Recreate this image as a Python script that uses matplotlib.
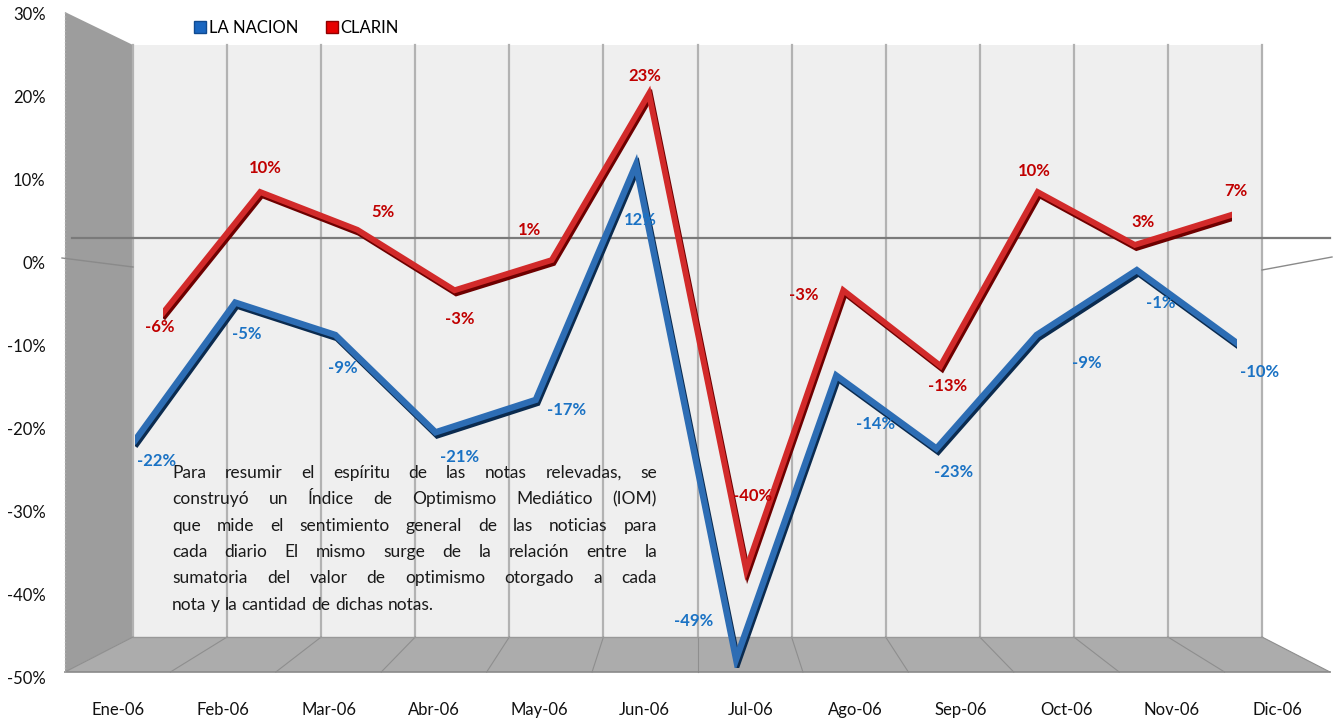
import matplotlib
matplotlib.use('Agg')
import matplotlib.pyplot as plt
import matplotlib.patheffects as pe
from matplotlib.lines import Line2D
from matplotlib.patches import Polygon, Rectangle
from matplotlib.ticker import FuncFormatter

# ---------------- data ----------------
months = ['Ene-06', 'Feb-06', 'Mar-06', 'Abr-06', 'May-06', 'Jun-06',
          'Jul-06', 'Ago-06', 'Sep-06', 'Oct-06', 'Nov-06', 'Dic-06']
la_nacion = [-22, -5, -9, -21, -17, 12, -49, -14, -23, -9, -1, -10]
clarin = [-6, 10, 5, -3, 1, 23, -40, -3, -13, 10, 3, 7]
y_ticks = [30, 20, 10, 0, -10, -20, -30, -40, -50]
series_names = ['LA NACION', 'CLARIN']
note_lines = [
    "Para resumir el espíritu de las notas relevadas, se",
    "construyó un Índice de Optimismo Mediático (IOM)",
    "que mide el sentimiento general de las noticias para",
    "cada diario El mismo surge de la relación entre la",
    "sumatoria del valor de optimismo otorgado a cada",
    "nota y la cantidad de dichas notas.",
]

# label offsets (pixels) - style only
ln_off = [(22, -21), (12, -31), (7, -33), (24, -25), (31, -10), (4, -55),
          (-42, 38), (39, -48), (17, -23), (50, -28), (24, -33), (23, -29)]
cl_off = [(-3, -14), (5, 24), (26, 18), (5, -29), (-22, 30), (-4, 18),
          (6, 74), (-40, -5), (7, -20), (-3, 21), (8, 23), (4, 24)]

W, H = 1334, 721
plt.rcParams['font.family'] = ['Lato', 'DejaVu Sans']
fig = plt.figure(figsize=(W / 100, H / 100), dpi=100)


def fr(x0, y0, x1, y1):
    return [x0 / W, 1 - y1 / H, (x1 - x0) / W, (y1 - y0) / H]


# ---------------- background (3D-like walls) ----------------
bg = fig.add_axes([0, 0, 1, 1])
bg.set_xlim(0, W)
bg.set_ylim(H, 0)
bg.axis('off')
bg.set_zorder(0)

BX0, BX1, BY0, BY1 = 133, 1262, 45, 637
FX0, FX1, FY = 65, 1330, 672
bg.add_patch(Polygon([(FX0, 12), (BX0, BY0), (BX0, BY1), (FX0, FY)],
                     closed=True, fc='#9d9d9d', ec='none'))
bg.add_patch(Rectangle((BX0, BY0), BX1 - BX0, BY1 - BY0, fc='#efefef', ec='none'))
bg.add_patch(Polygon([(BX0, BY1), (BX1, BY1), (FX1, FY), (FX0, FY)],
                     closed=True, fc='#acacac', ec='none'))
nb = 12
for i in range(nb + 1):
    xb = BX0 + (BX1 - BX0) * i / nb
    xf = FX0 + (FX1 - FX0) * i / nb
    bg.plot([xb, xb], [BY0, BY1], color='#b2b2b2', lw=1.6, zorder=1)
    bg.plot([xb, xf], [BY1, FY], color='#8e8e8e', lw=0.8, zorder=1)
bg.plot([BX0, BX1], [BY1, BY1], color='#999999', lw=1, zorder=1)
bg.plot([FX0, FX1], [FY, FY], color='#8a8a8a', lw=1.2, zorder=1)
bg.plot([FX0, FX0], [12, FY], color='#b0b0b0', lw=1, ls=':', zorder=1)
bg.plot([72, 1330], [238, 238], color='#7a7a7a', lw=1.6, zorder=2)
bg.plot([62, BX0], [258, 267], color='#8a8a8a', lw=1, zorder=2)
bg.plot([BX1, 1332], [270, 257], color='#8a8a8a', lw=1, zorder=2)

# ---------------- tick-label axes ----------------
axy = fig.add_axes(fr(FX0, 14, FX1, 677))
axy.set_zorder(1)
axy.patch.set_visible(False)
for s in axy.spines.values():
    s.set_visible(False)
axy.set_xlim(-0.5, 11.5)
axy.set_ylim(-50, 30)
axy.set_yticks(y_ticks)
axy.yaxis.set_major_formatter(FuncFormatter(lambda v, p: f"{int(v)}%"))
axy.set_xticks(range(len(months)))
axy.set_xticklabels(months)
axy.tick_params(axis='y', length=0, pad=14, labelsize=12, labelcolor='#111111')
axy.tick_params(axis='x', length=0, pad=18, labelsize=12, labelcolor='#111111')

# ---------------- series axes ----------------
ax_cl = fig.add_axes(fr(163, 267.6 - 7.56 * 30, 1232, 267.6 + 7.56 * 50))
ax_ln = fig.add_axes(fr(135, 262 - 8.11 * 30, 1237, 262 + 8.11 * 50))
for a, z in ((ax_cl, 2), (ax_ln, 3)):
    a.set_xlim(0, 11)
    a.set_ylim(-50, 30)
    a.axis('off')
    a.set_zorder(z)

x = list(range(len(months)))
ax_cl.plot(x, clarin, color='#d22a2a', lw=4.2, solid_joinstyle='miter',
           path_effects=[pe.SimpleLineShadow(offset=(1.2, -2.2), shadow_color='#6e0000', alpha=1.0),
                         pe.Normal()])
ax_ln.plot(x, la_nacion, color='#2d6db4', lw=4.6, solid_joinstyle='miter',
           path_effects=[pe.SimpleLineShadow(offset=(1.2, -2.2), shadow_color='#0b2b4f', alpha=1.0),
                         pe.Normal()])

for i, v in enumerate(clarin):
    ax_cl.annotate(f"{v}%", (i, v), xytext=cl_off[i], textcoords='offset pixels',
                   ha='center', va='center', fontsize=12, fontweight='bold',
                   color='#c00000', annotation_clip=False)
for i, v in enumerate(la_nacion):
    ax_ln.annotate(f"{v}%", (i, v), xytext=ln_off[i], textcoords='offset pixels',
                   ha='center', va='center', fontsize=12, fontweight='bold',
                   color='#1a72c4', annotation_clip=False)

# ---------------- legend ----------------
handles = [Line2D([], [], marker='s', ls='', mfc='#1a66c0', mec='#104a90', ms=8),
           Line2D([], [], marker='s', ls='', mfc='#e80000', mec='#900000', ms=8)]
fig.legend(handles, series_names, loc='upper left', bbox_to_anchor=(178 / W, 1 - 5 / H),
           ncol=2, frameon=False, fontsize=12, handletextpad=0.15,
           columnspacing=1.6, handlelength=0.8)

# ---------------- justified note ----------------
fig.canvas.draw()
r = fig.canvas.get_renderer()
NX0, NX1 = 172, 657
base, lh = 478, 26.3
fs = 12.5
ta = bg.text(0, 0, 'a a', fontsize=fs)
tb = bg.text(0, 0, 'aa', fontsize=fs)
space = ta.get_window_extent(r).width - tb.get_window_extent(r).width
ta.remove()
tb.remove()
for k, line in enumerate(note_lines):
    words = line.split()
    yb = base + k * lh
    texts, widths = [], []
    for w in words:
        t = bg.text(0, yb, w, fontsize=fs, color='#1a1a1a', va='baseline', ha='left', zorder=3)
        texts.append(t)
        widths.append(t.get_window_extent(r).width)
    if k < len(note_lines) - 1 and len(words) > 1:
        gap = (NX1 - NX0 - sum(widths)) / (len(words) - 1)
    else:
        gap = space
    xx = NX0
    for t, wd in zip(texts, widths):
        t.set_x(xx)
        xx += wd + gap

fig.savefig('out.png', dpi=100)
